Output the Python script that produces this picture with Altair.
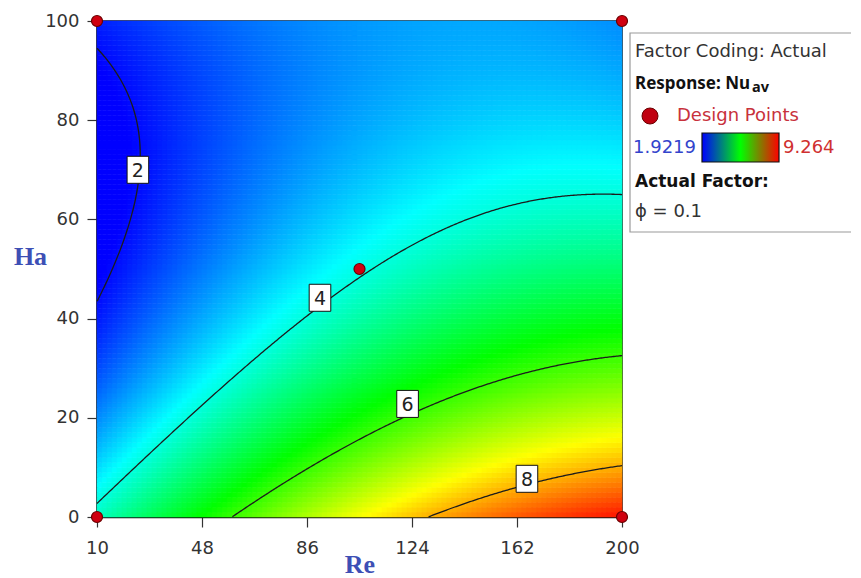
import numpy as np
import pandas as pd
import altair as alt

alt.data_transformers.disable_max_rows()

# ---------------- data ----------------
re_ticks = [10, 48, 86, 124, 162, 200]
ha_ticks = [0, 20, 40, 60, 80, 100]

# points along the printed contour lines (Re, Ha) for each level
c2_re = [10, 16, 22, 24.8, 23, 19, 12.5, 10]
c2_ha = [94.2, 89.7, 80, 69, 60, 52.4, 45, 42.7]
c4_re = [10, 43.7, 79.9, 97.9, 105, 116, 134.1, 152.3, 170.3, 188.5, 200]
c4_ha = [3.4, 19.6, 39.0, 46.1, 48.3, 52.5, 57.9, 61.2, 64.3, 64.6, 64.6]
c6_re = [59.3, 97.9, 116, 122.1, 158.3, 182.5, 200]
c6_ha = [0, 13.8, 18.5, 20.9, 28.3, 30.6, 32.3]
c8_re = [131.8, 148.6, 165.5, 200]
c8_ha = [0, 3.4, 6.8, 10.8]

col_re = [10, 10, 50, 105, 200]
col_ha = [100, 68, 100, 100, 100]
col_nu = [2.1, 1.92, 2.35, 2.7, 3.25]

# design points
dp_re = [10, 10, 200, 200, 105]
dp_ha = [0, 100, 0, 100, 50]

# contour labels
lab_level = [2, 4, 6, 8]
lab_re = [24.8, 90.7, 122.4, 165.6]
lab_ha = [70.0, 44.2, 22.8, 7.7]

nu_min, nu_max = 1.9219, 9.264
levels = [2, 4, 6, 8]

# ---------------- response surface fitted to the read values ----------------
def basis(re, ha):
    x = (np.asarray(re, float) - 105.0) / 95.0
    y = (np.asarray(ha, float) - 50.0) / 50.0
    return np.stack([np.ones_like(x), x, y, x * x, x * y, y * y,
                     x ** 3, x * x * y, x * y * y, y ** 3], axis=-1)

fit_re = np.array(c2_re + c4_re + c6_re + c8_re + col_re, float)
fit_ha = np.array(c2_ha + c4_ha + c6_ha + c8_ha + col_ha, float)
fit_nu = np.array([2] * len(c2_re) + [4] * len(c4_re) + [6] * len(c6_re)
                  + [8] * len(c8_re) + col_nu, float)
wts = np.array([1.0] * (len(fit_re) - len(col_re)) + [0.3] * len(col_re))
wts[len(c2_re) + 4] = 3.0  # contour 4 right under the centre design point
coef, *_ = np.linalg.lstsq(basis(fit_re, fit_ha) * wts[:, None], fit_nu * wts, rcond=None)


def model(re, ha):
    return basis(re, ha) @ coef


# heat-map grid
nx, ny = 105, 100
re_e = np.linspace(10, 200, nx + 1)
ha_e = np.linspace(0, 100, ny + 1)
R0, H0 = np.meshgrid(re_e[:-1], ha_e[:-1])
R1, H1 = np.meshgrid(re_e[1:], ha_e[1:])
NU = model((R0 + R1) / 2, (H0 + H1) / 2)
heat_df = pd.DataFrame({
    "re0": R0.ravel().round(3), "re1": R1.ravel().round(3),
    "ha0": H0.ravel().round(3), "ha1": H1.ravel().round(3),
    "nu": NU.ravel().round(3),
})

# contour lines traced from the fitted surface
fine_re = np.linspace(10, 200, 381)
fine_ha = np.linspace(0, 100, 401)
rows = []
for lv in levels:
    if lv == 2:
        for k, h in enumerate(fine_ha):
            v = model(fine_re, np.full_like(fine_re, h)) - lv
            idx = np.where(np.sign(v[:-1]) * np.sign(v[1:]) <= 0)[0]
            if len(idx):
                i = idx[0]
                t = v[i] / (v[i] - v[i + 1]) if v[i] != v[i + 1] else 0
                rows.append((lv, k, fine_re[i] + t * (fine_re[i + 1] - fine_re[i]), h))
    else:
        for k, r in enumerate(fine_re):
            v = model(np.full_like(fine_ha, r), fine_ha) - lv
            idx = np.where(np.sign(v[:-1]) * np.sign(v[1:]) <= 0)[0]
            if len(idx):
                i = idx[0]
                t = v[i] / (v[i] - v[i + 1]) if v[i] != v[i + 1] else 0
                rows.append((lv, k, r, fine_ha[i] + t * (fine_ha[i + 1] - fine_ha[i])))
line_df = pd.DataFrame(rows, columns=["level", "k", "re", "ha"])

dp_df = pd.DataFrame({"re": dp_re, "ha": dp_ha})
lab_df = pd.DataFrame({"level": lab_level, "re": lab_re, "ha": lab_ha})
one = pd.DataFrame({"a": [0]})

# ---------------- chart ----------------
FONT = "DejaVu Sans"
stops = [nu_min + (nu_max - nu_min) * f for f in (0, 0.25, 0.5, 0.75, 1)]
cscale = alt.Scale(domain=stops,
                   range=["#0000ff", "#00ffff", "#00ff00", "#ffff00", "#ff0000"],
                   clamp=True, interpolate="rgb")
xs = alt.Scale(domain=[10, 200], nice=False, zero=False)
ys = alt.Scale(domain=[0, 100], nice=False, zero=False)

xax = alt.Axis(values=re_ticks, title="Re", titleY=47, titleBaseline="middle",
               labelFlush=False)
yax = alt.Axis(values=ha_ticks, title="Ha", titleAngle=0, titleX=-67, titleY=235,
               titleAlign="center", titleBaseline="middle", labelFlush=False)

heat = alt.Chart(heat_df).mark_rect(strokeWidth=0.6).encode(
    x=alt.X("re0:Q", scale=xs, axis=xax),
    x2="re1:Q",
    y=alt.Y("ha0:Q", scale=ys, axis=yax),
    y2="ha1:Q",
    color=alt.Color("nu:Q", scale=cscale, legend=None),
    stroke=alt.Stroke("nu:Q", scale=cscale, legend=None),
)

lines = alt.Chart(line_df).mark_line(color="#1c1c1c", strokeWidth=1.3).encode(
    x=alt.X("re:Q", scale=xs, title="Re"),
    y=alt.Y("ha:Q", scale=ys, title="Ha"),
    detail="level:N",
    order="k:Q",
)

box_path = "M-0.8,-1L0.8,-1L0.8,1L-0.8,1Z"
lab_box = alt.Chart(lab_df).mark_point(
    shape=box_path, size=729, filled=True, fill="white", stroke="#111111",
    strokeWidth=1, opacity=1
).encode(x=alt.X("re:Q", scale=xs, title="Re"), y=alt.Y("ha:Q", scale=ys, title="Ha"))
lab_txt = alt.Chart(lab_df).mark_text(
    font=FONT, fontSize=19, color="#222222", baseline="middle", align="center", dy=1
).encode(x=alt.X("re:Q", scale=xs, title="Re"), y=alt.Y("ha:Q", scale=ys, title="Ha"),
         text="level:N")

pts = alt.Chart(dp_df).mark_circle(
    size=121, color="#d00010", stroke="#6a0000", strokeWidth=1.2, opacity=1
).encode(x=alt.X("re:Q", scale=xs, title="Re"), y=alt.Y("ha:Q", scale=ys, title="Ha"))


def txt(s, x, y, size=18, weight="normal", color="#333333", font=FONT):
    return alt.Chart(one).mark_text(
        font=font, fontSize=size, fontWeight=weight, color=color,
        align="left", baseline="middle"
    ).encode(x=alt.value(x), y=alt.value(y), text=alt.value(s))


legend_box = alt.Chart(one).mark_rect(fill="white", stroke="#9a9a9a", strokeWidth=1.2).encode(
    x=alt.value(533), x2=alt.value(763), y=alt.value(12), y2=alt.value(211))
legend_dot = alt.Chart(one).mark_circle(
    size=256, color="#c00010", stroke="#6a0000", strokeWidth=1, opacity=1
).encode(x=alt.value(553), y=alt.value(95))
grad = alt.Chart(one).mark_rect(
    fill=alt.Gradient(gradient="linear", x1=0, x2=1, y1=0, y2=0,
                      stops=[alt.GradientStop(color="#0000ff", offset=0),
                             alt.GradientStop(color="#00ff00", offset=0.5),
                             alt.GradientStop(color="#ff0000", offset=1)]),
    stroke="#111111", strokeWidth=1.2
).encode(x=alt.value(605), x2=alt.value(682), y=alt.value(112), y2=alt.value(141))

legend = [
    legend_box,
    txt("Factor Coding: Actual", 538, 31),
    txt("Response: Nu", 538, 63, size=17, weight="bold", color="#111111", font="Noto Sans"),
    txt("av", 655, 67, size=14.5, weight="bold", color="#111111", font="Noto Sans"),
    legend_dot,
    txt("Design Points", 580, 95, color="#c8323c"),
    txt(f"{nu_min}", 536, 127, color="#3344cc"),
    grad,
    txt(f"{nu_max}", 686, 127, color="#d03030"),
    txt("Actual Factor:", 538, 161, size=17, weight="bold", color="#111111"),
    txt("\u03d5 = 0.1", 538, 191),
]

chart = alt.layer(heat, lines, lab_box, lab_txt, pts, *legend).properties(
    width=525, height=496,
    padding={"left": 89, "top": 13, "right": 229, "bottom": 61},
    autosize=alt.AutoSizeParams(type="none"),
    background="white",
).configure_view(
    stroke="#111111", strokeWidth=1.5
).configure_axis(
    grid=False,
    labelFont=FONT, labelFontSize=18, labelColor="#333333",
    tickSize=10, tickColor="#333333", tickWidth=1.2,
    domainColor="#111111", domainWidth=1.5,
    titleFont="Liberation Serif", titleFontSize=26, titleFontWeight="bold",
    titleColor="#3d4fb5",
).configure_axisX(
    labelPadding=12
).configure_axisY(
    labelPadding=8
)

chart.save("out.html", embed_options={"renderer": "svg", "actions": False})
